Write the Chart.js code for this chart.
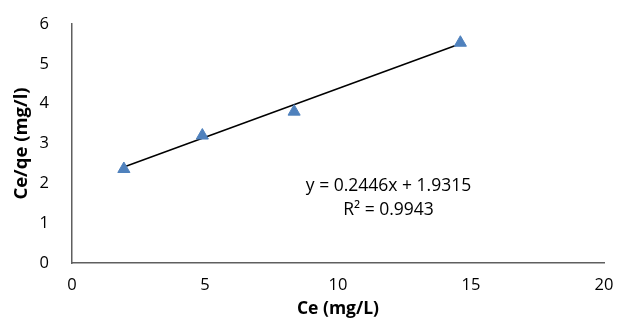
<!DOCTYPE html>
<html><head><meta charset="utf-8">
<script src="https://cdn.jsdelivr.net/npm/chart.js@4"></script>
<style>html,body{margin:0;padding:0;background:#fff}#w{width:621px;height:334px}</style>
</head><body><div id="w"><canvas id="c"></canvas></div>
<script>
const ceValues = [1.95, 4.9, 8.35, 14.6];
const ceQeValues = [2.36, 3.2, 3.8, 5.53];
const slope = 0.2446, intercept = 1.9315;
const equationText = ['y = 0.2446x + 1.9315', 'R² = 0.9943'];
const xTitle = 'Ce (mg/L)', yTitle = 'Ce/qe (mg/l)';

const pts = ceValues.map((x,i)=>({x, y: ceQeValues[i]}));
const xMin = Math.min(...ceValues), xMax = Math.max(...ceValues);
const trend = [{x:xMin, y:slope*xMin+intercept},{x:xMax, y:slope*xMax+intercept}];
const FF = '"Open Sans", sans-serif';

const eqPlugin = {
  id:'eq',
  afterDatasetsDraw(chart){
    const {ctx, scales:{x,y}} = chart;
    ctx.save();
    ctx.fillStyle = '#000';
    ctx.font = '17.5px ' + FF;
    ctx.textAlign = 'center'; ctx.textBaseline = 'middle';
    const cx = x.getPixelForValue(11.9);
    ctx.fillText(equationText[0], cx, y.getPixelForValue(1.94));
    ctx.fillText(equationText[1], cx, y.getPixelForValue(1.34));
    ctx.restore();
  }
};

new Chart(document.getElementById('c'), {
  type:'scatter',
  data:{datasets:[
    {data:pts, pointStyle:'triangle', pointRadius:7, pointHoverRadius:7, backgroundColor:'#4F81BD', borderColor:'#4F81BD', borderWidth:1, order:1},
    {type:'line', data:trend, borderColor:'#000', borderWidth:1.5, pointRadius:0, fill:false, order:2}
  ]},
  options:{
    responsive:true, maintainAspectRatio:false, animation:false,
    layout:{padding:{top:24, right:17, left:0, bottom:0}},
    plugins:{legend:{display:false}, tooltip:{enabled:false}},
    scales:{
      x:{type:'linear', min:0, max:20,
        ticks:{stepSize:5, color:'#000', font:{size:16.5, family:FF}, padding:12},
        grid:{display:false, drawTicks:false},
        border:{color:'#5f5f5f', width:1.5},
        title:{display:true, text:xTitle, color:'#000', font:{size:17.5, weight:'bold', family:FF}, padding:{top:0, bottom:14}},
        afterFit(s){ s.height = 71; s.paddingLeft = 0; s.paddingRight = 0; }
      },
      y:{min:0, max:6,
        ticks:{stepSize:1, color:'#000', font:{size:16.5, family:FF}, padding:23},
        grid:{display:false, drawTicks:false},
        border:{color:'#5f5f5f', width:1.5},
        title:{display:true, text:yTitle, color:'#000', font:{size:18.5, weight:'bold', family:FF}, padding:{top:11, bottom:0}},
        afterFit(s){ s.width = 72; s.paddingTop = 0; s.paddingBottom = 0; }
      }
    }
  },
  plugins:[eqPlugin]
});
</script></body></html>
